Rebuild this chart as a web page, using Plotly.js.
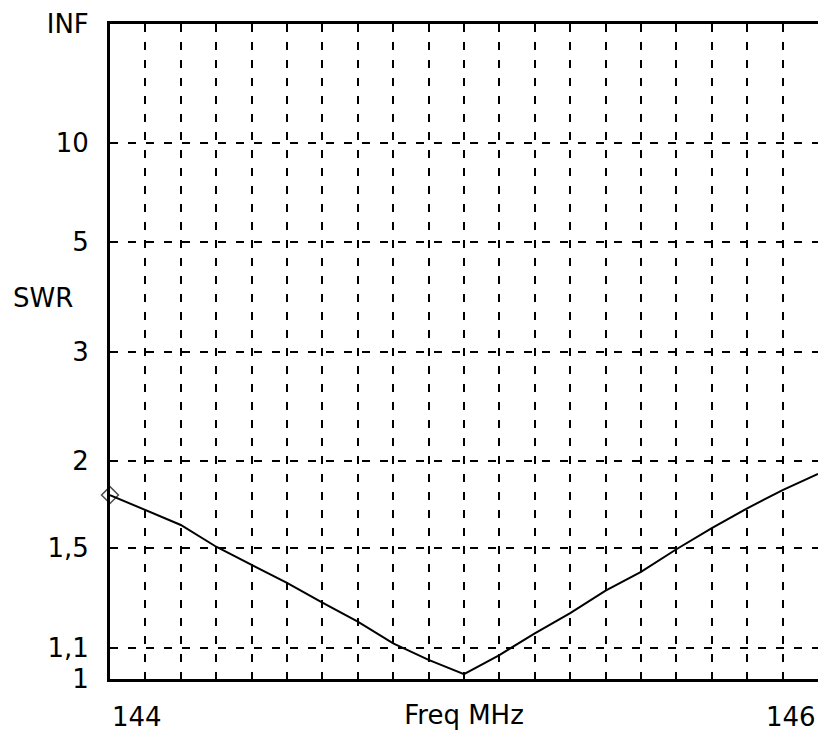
<!DOCTYPE html>
<html>
<head>
<meta charset="utf-8">
<script src="https://cdn.plot.ly/plotly-3.0.1.min.js"></script>
<style>html,body{margin:0;padding:0;background:#fff;}#chart{width:819px;height:742px;}</style>
</head>
<body>
<div id="chart"></div>
<script>
// Frequency (MHz) and SWR
const freqMHz = [144.0, 144.1, 144.2, 144.3, 144.4, 144.5, 144.6, 144.7, 144.8, 144.9, 145.0,
                 145.1, 145.2, 145.3, 145.4, 145.5, 145.6, 145.7, 145.8, 145.9, 146.0];
const swr = [1.781, 1.695, 1.615, 1.506, 1.421, 1.344, 1.264, 1.192, 1.115, 1.060, 1.015,
             1.076, 1.150, 1.224, 1.312, 1.391, 1.494, 1.598, 1.705, 1.811, 1.911];

// Y-axis tick labels (SWR values); INF is the top edge
const ySwrTicks = [1, 1.1, 1.5, 2, 3, 5, 10, Infinity];
const yTickText = ['1', '1,1', '1,5', '2', '3', '5', '10', 'INF'];
// X-axis end labels
const xTickVals = [144, 146];
const xTickText = ['144', '146'];

// SWR -> reflection coefficient (the scale the chart is linear in)
const rho = s => (s === Infinity ? 1 : (s - 1) / (s + 1));

const font = {family: 'DejaVu Sans, Verdana, sans-serif', size: 26, color: '#000'};

const trace = {
  x: freqMHz,
  y: swr.map(rho),
  mode: 'lines+markers',
  cliponaxis: false,
  line: {color: '#000', width: 2},
  marker: {
    symbol: 'diamond-open',
    size: swr.map((v, i) => (i === 0 ? 13 : 0)),
    color: '#000',
    line: {color: '#000', width: 1.5}
  },
  hoverinfo: 'skip'
};

const layout = {
  width: 819, height: 742,
  margin: {l: 110, r: 1, t: 24, b: 63},
  paper_bgcolor: '#fff', plot_bgcolor: '#fff',
  showlegend: false,
  font: font,
  xaxis: {
    range: [144, 146],
    tick0: 144, dtick: 0.1,
    showticklabels: false, ticks: '',
    showgrid: true, gridcolor: '#000', gridwidth: 2, griddash: '8px,10px',
    zeroline: false,
    showline: true, linecolor: '#000', linewidth: 3, mirror: true,
    title: {text: 'Freq MHz', font: font, standoff: 25}
  },
  yaxis: {
    range: [0, 1],
    tickmode: 'array',
    tickvals: ySwrTicks.map(rho),
    ticktext: yTickText,
    ticks: '', ticklabelstandoff: 13,
    tickfont: font,
    showgrid: true, gridcolor: '#000', gridwidth: 2, griddash: '8px,10px',
    zeroline: false,
    showline: true, linecolor: '#000', linewidth: 3, mirror: false
  },
  annotations: [
    {text: xTickText[0], x: xTickVals[0], xref: 'x', y: 0, yref: 'paper',
     xanchor: 'left', yanchor: 'middle', yshift: -38, showarrow: false, font: font},
    {text: xTickText[1], x: xTickVals[1], xref: 'x', y: 0, yref: 'paper',
     xanchor: 'right', yanchor: 'middle', yshift: -38, showarrow: false, font: font},
    {text: 'SWR', x: 0, xref: 'paper', xshift: -99, xanchor: 'left',
     y: 0.582, yref: 'paper', yanchor: 'middle', showarrow: false, font: font}
  ]
};

Plotly.newPlot('chart', [trace], layout, {staticPlot: true, displayModeBar: false});
</script>
</body>
</html>
